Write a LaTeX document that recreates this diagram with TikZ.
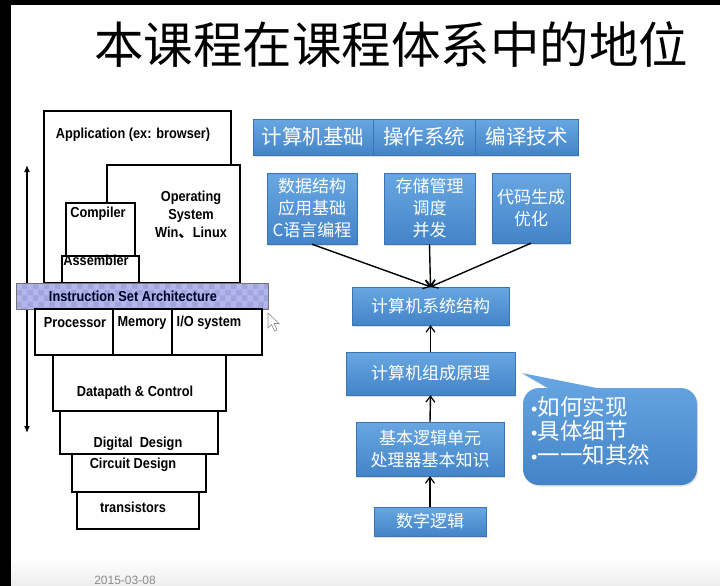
\documentclass[tikz,border=0pt]{standalone}
\usepackage{fontspec}
\setmainfont{Liberation Sans}
\newfontfamily\narrowsans[FakeStretch=0.88]{Liberation Sans}
\newfontfamily\cjk{Noto Sans CJK SC}
\usetikzlibrary{arrows.meta,shadows,patterns}
\definecolor{boxtop}{HTML}{68A7E2}
\definecolor{boxbot}{HTML}{4384C8}
\definecolor{boxedge}{HTML}{3B74B2}
\definecolor{isafill}{HTML}{B2B6EA}
\definecolor{isachk}{HTML}{A0A5DE}
\begin{document}
\begin{tikzpicture}[x=1pt,y=-1pt,
  layer/.style={draw=black, line width=1.4pt, fill=white},
  lbl/.style={font=\narrowsans\bfseries\fontsize{14.5}{18}\selectfont, inner sep=0pt, align=center},
  bluebox/.style={top color=boxtop, bottom color=boxbot, draw=boxedge, line width=0.4pt,
    text=white, font=\cjk\fontsize{17}{22}\selectfont, align=center, inner sep=0pt,
    drop shadow={opacity=0.25, shadow xshift=1pt, shadow yshift=-1.5pt}},
  topbox/.style={bluebox, font=\cjk\fontsize{20.5}{24}\selectfont, minimum height=36pt},
  flow/.style={draw=black, line width=1.4pt, -{Straight Barb[length=6pt,width=9pt,line width=1.2pt]}},
]
\useasboundingbox (0,0) rectangle (720,586);
\clip (0,0) rectangle (720,586);
% page background and frame
\fill[white] (0,0) rectangle (720,586);
\shade[top color=white, bottom color=black!7] (0,558) rectangle (720,586);
\fill[black] (0,0) rectangle (720,5);
\fill[black] (0,0) rectangle (11,586);

% heading
\node[inner sep=0pt] (title) at (391,45) {\cjk\fontsize{49.5}{52}\selectfont 本课程在课程体系中的地位};

% ---- abstraction layers ----
\coordinate (up) at (27,165);
\coordinate (down) at (27,433);
\draw[line width=1.3pt, {Latex[length=7pt,width=6pt]}-{Latex[length=7pt,width=6pt]}] (up) -- (down);

\draw[layer] (44,111) rectangle (231,283);
\draw[layer] (107,165) rectangle (240,283);
\draw[layer] (66,203) rectangle (135,256);
\draw[layer] (62,256) rectangle (139,283);
\node[lbl] (app) at (133,135) {Application (ex: browser)};
\node[lbl] (os) at (191,215) {Operating\\System\\Win{\cjk 、}Linux};
\node[lbl] (comp) at (98,214) {Compiler};
\node[lbl] (asm) at (96,260) {Assembler};

% instruction set bar
\fill[isafill] (16,283) rectangle (268,309);
\fill[pattern=checkerboard, pattern color=isachk] (16,283) rectangle (268,309);
\draw[black!55, line width=0.6pt] (16,283) rectangle (268,309);
\node[lbl, text=black!85!blue] (isa) at (133,296) {Instruction Set Architecture};

\draw[layer] (35,309) rectangle (262,355);
\draw[line width=1.4pt] (113,309) -- (113,355) (172,309) -- (172,355);
\node[lbl] (proc) at (75,323) {Processor};
\node[lbl] (mem) at (142,323) {Memory};
\node[lbl] (io) at (209,323) {I/O system};

\draw[layer] (53,355) rectangle (226,411);
\node[lbl] (dp) at (135,393) {Datapath \& Control};
\draw[layer] (60,411) rectangle (218,454);
\node[lbl] (dd) at (138,444) {Digital~~Design};
\draw[layer] (72,454) rectangle (206,492);
\node[lbl] (cd) at (133,465) {Circuit Design};
\draw[layer] (77,492) rectangle (199,529);
\node[lbl] (tr) at (133,507) {transistors};

% pointer
\filldraw[fill=white, draw=black!45, line width=0.6pt]
  (268,313) -- (268,328) -- (271.5,324.5) -- (274.5,331) -- (277,330) -- (274,323.5) -- (279,323.5) -- cycle;

% ---- course chain ----
\node[topbox, minimum width=120pt] (jc) at (313,137) {计算机基础};
\node[topbox, minimum width=102pt] (czxt) at (424,137) {操作系统};
\node[topbox, minimum width=103pt] (byjs) at (526.5,137) {编译技术};

\node[bluebox, minimum width=90pt, minimum height=71pt] (b1) at (312,208.5) {数据结构\\应用基础\\C语言编程};
\node[bluebox, minimum width=91pt, minimum height=71pt] (b2) at (429.5,208.5) {存储管理\\调度\\并发};
\node[bluebox, minimum width=78pt, minimum height=70pt] (b3) at (531,208) {代码生成\\优化};

\node[bluebox, minimum width=157pt, minimum height=38pt] (sys) at (430.5,306) {计算机系统结构};
\node[bluebox, minimum width=169pt, minimum height=43pt] (org) at (430.5,373.5) {计算机组成原理};
\node[bluebox, minimum width=148pt, minimum height=54pt] (logic) at (430,449) {基本逻辑单元\\处理器基本知识};
\node[bluebox, minimum width=112pt, minimum height=29pt] (dig) at (430,521.5) {数字逻辑};

\draw[flow] (b1.south) -- (sys.north);
\draw[flow] (b2.south) -- (sys.north);
\draw[flow] (b3.south) -- (sys.north);
\draw[flow] (org.north) -- (sys.south);
\draw[flow] (logic.north) -- (org.south);
\draw[flow] (dig.north) -- (logic.south);

% speech bubble
\shade[top color=boxtop, bottom color=boxbot, drop shadow={opacity=0.25, shadow xshift=1pt, shadow yshift=-1.5pt}]
  (597,388) [rounded corners=16pt] -- (697,388) -- (697,485) -- (523,485) -- (523,388) [sharp corners] -- (548,388) -- (522,373) -- cycle;
\node[inner sep=0pt, anchor=west, align=left, text=white, font=\cjk\fontsize{22.5}{24}\selectfont] (tips) at (531,431)
  {{\rmfamily\fontsize{18}{18}\selectfont •}如何实现\\{\rmfamily\fontsize{18}{18}\selectfont •}具体细节\\{\rmfamily\fontsize{18}{18}\selectfont •}一一知其然};

% footer date
\node[text=black!45, font=\fontsize{12}{12}\selectfont, anchor=south, inner sep=1pt] (date) at (125,586) {2015-03-08};
\end{tikzpicture}
\end{document}
